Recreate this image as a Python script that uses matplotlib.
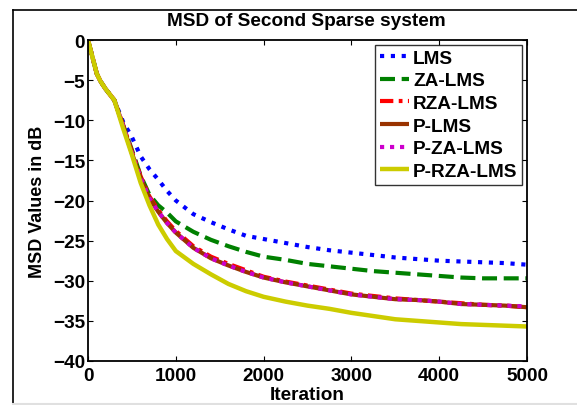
import matplotlib
matplotlib.use("Agg")
import matplotlib.pyplot as plt
from matplotlib.lines import Line2D

# Chart data
TITLE = "MSD of Second Sparse system"
X_LABEL = "Iteration"
Y_LABEL = "MSD Values in dB"
SERIES_NAMES = ["LMS", "ZA-LMS", "RZA-LMS", "P-LMS", "P-ZA-LMS", "P-RZA-LMS"]

iterations = [0, 50, 100, 140, 200, 300, 400, 500, 600, 700, 800, 900, 1000,
              1200, 1400, 1600, 1800, 2000, 2250, 2500, 2750, 3000, 3250,
              3500, 3750, 4000, 4250, 4500, 4750, 5000]

lms = [0, -2.1, -4.2, -5.1, -6.1, -7.5, -10.2, -12.1, -14.5, -16.1, -17.4,
       -18.8, -20.0, -21.7, -22.7, -23.6, -24.4, -24.8, -25.3, -25.8, -26.2,
       -26.5, -26.8, -27.1, -27.3, -27.5, -27.6, -27.7, -27.8, -28.0]
za_lms = [0, -2.1, -4.2, -5.1, -6.1, -7.5, -10.6, -13.7, -16.9, -19.3, -20.6,
          -21.5, -22.6, -23.9, -24.9, -25.7, -26.4, -27.0, -27.4, -27.9,
          -28.2, -28.5, -28.8, -29.0, -29.2, -29.4, -29.6, -29.7, -29.7, -29.7]
rza_lms = [0, -2.1, -4.2, -5.1, -6.1, -7.5, -10.6, -13.9, -17.0, -19.5,
           -21.2, -22.6, -23.8, -25.7, -27.0, -27.9, -28.7, -29.5, -30.1,
           -30.6, -31.1, -31.6, -31.9, -32.2, -32.4, -32.6, -32.8, -33.0,
           -33.1, -33.3]
p_lms = [0, -2.1, -4.2, -5.1, -6.1, -7.5, -10.7, -14.1, -17.2, -19.7, -21.4,
         -22.8, -24.0, -25.9, -27.2, -28.1, -28.9, -29.6, -30.2, -30.7,
         -31.2, -31.7, -32.0, -32.3, -32.4, -32.6, -32.9, -33.0, -33.1, -33.3]
p_za_lms = [0, -2.1, -4.2, -5.1, -6.1, -7.5, -10.7, -14.1, -17.2, -19.7,
            -21.4, -22.8, -24.0, -25.9, -27.2, -28.1, -28.9, -29.6, -30.2,
            -30.7, -31.2, -31.7, -32.0, -32.3, -32.4, -32.6, -32.9, -33.0,
            -33.1, -33.2]
p_rza_lms = [0, -2.1, -4.2, -5.1, -6.1, -7.5, -11.0, -14.3, -17.8, -20.6,
             -23.0, -24.8, -26.3, -27.9, -29.2, -30.4, -31.3, -32.0, -32.6,
             -33.1, -33.5, -34.0, -34.4, -34.8, -35.0, -35.2, -35.4, -35.5,
             -35.6, -35.7]

x_ticks = [0, 1000, 2000, 3000, 4000, 5000]
y_ticks = [0, -5, -10, -15, -20, -25, -30, -35, -40]

# Styles (MATLAB-like)
FONT = "Liberation Sans"
FS = 13.7
plt.rcParams["font.family"] = FONT
plt.rcParams["font.weight"] = "bold"

styles = [
    dict(color="#0000ff", dashes=(1, 1.6), lw=3.0),
    dict(color="#008000", dashes=(3.6, 1.6), lw=3.0),
    dict(color="#ff0000", dashes=(3.2, 1.3, 0.9, 1.3), lw=3.0),
    dict(color="#993300", ls="-", lw=3.0),
    dict(color="#cc00cc", dashes=(1, 1.4), lw=3.0),
    dict(color="#cccc00", ls="-", lw=3.2),
]
all_series = [lms, za_lms, rza_lms, p_lms, p_za_lms, p_rza_lms]

fig = plt.figure(figsize=(5.77, 4.06), dpi=100)
ax = fig.add_axes([88 / 577, 1 - 362 / 406, 439 / 577, 321 / 406])

for name, vals, st in zip(SERIES_NAMES, all_series, styles):
    ax.plot(iterations, vals, label=name, solid_capstyle="butt",
            dash_capstyle="butt", **st)

ax.set_xlim(0, 5000)
ax.set_ylim(-40, 0)
ax.set_xticks(x_ticks)
ax.set_yticks(y_ticks)
ax.tick_params(direction="in", length=3.5, width=0.8, top=True, right=True,
               labelsize=FS)
ax.tick_params(axis="x", pad=4)
ax.tick_params(axis="y", pad=2)
for lab in ax.get_xticklabels() + ax.get_yticklabels():
    lab.set_fontweight("bold")
for sp in ax.spines.values():
    sp.set_linewidth(1.3)

ax.set_xlabel(X_LABEL, fontsize=FS, fontweight="bold")
ax.xaxis.set_label_coords(0.5, -0.078)
ax.set_ylabel(Y_LABEL, fontsize=13, fontweight="bold")
ax.yaxis.set_label_coords(-0.095, 0.5)

fig.text(306 / 577, 1 - 21.5 / 406, TITLE, fontsize=FS, fontweight="bold",
         ha="center", va="center")

leg = ax.legend(loc="upper right", fontsize=FS, frameon=True, fancybox=False,
                labelspacing=0.28, handlelength=1.55, handletextpad=0.2,
                borderpad=0.25, borderaxespad=0.25)
leg.get_frame().set_edgecolor("black")
leg.get_frame().set_linewidth(1.0)
for t in leg.get_texts():
    t.set_fontweight("bold")

# outer frame of the screenshot
fig.add_artist(Line2D([12.5 / 577, 12.5 / 577], [0, 1 - 10.5 / 406],
                      transform=fig.transFigure, color="black", lw=1.2))
fig.add_artist(Line2D([12.5 / 577, 1], [1 - 10.5 / 406, 1 - 10.5 / 406],
                      transform=fig.transFigure, color="black", lw=1.2))
fig.add_artist(Line2D([12.5 / 577, 1], [1.5 / 406, 1.5 / 406],
                      transform=fig.transFigure, color="#e0e0e0", lw=1.5))

fig.savefig("out.png", dpi=100)
